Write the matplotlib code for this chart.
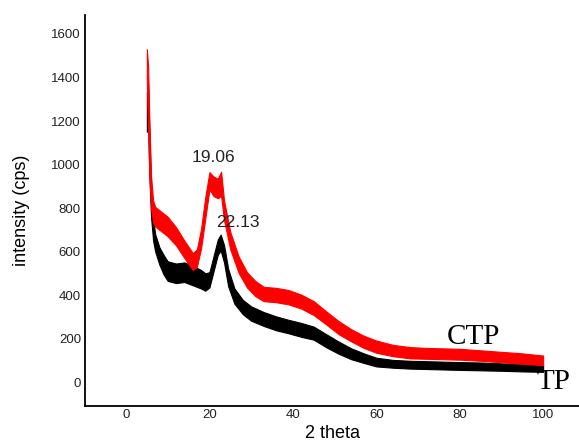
import matplotlib
matplotlib.use("Agg")
import matplotlib.pyplot as plt

# 2 theta positions and noise envelope (lower / upper) of each pattern
ctp_x = [5.0, 5.3, 5.6, 6.0, 6.5, 7.0, 8.0, 10, 12, 14, 16, 17, 18, 19, 20, 21, 22, 22.8, 23.5, 25,
         27, 29, 31, 33, 36, 39, 42, 45, 48, 51, 54, 57, 60, 64, 68, 72, 76, 80, 85, 90, 95, 100]
ctp_lo = [1380, 1150, 950, 800, 735, 715, 700, 670, 628, 570, 515, 530, 615, 750, 885, 855, 845, 855, 745, 610,
          502, 435, 395, 372, 367, 357, 338, 308, 265, 220, 187, 157, 135, 119, 109, 107, 105, 103, 98, 91, 84, 78]
ctp_hi = [1530, 1450, 1200, 950, 835, 805, 790, 760, 712, 650, 593, 610, 705, 850, 965, 945, 935, 967, 835, 690,
          578, 505, 465, 438, 433, 423, 402, 372, 325, 280, 243, 213, 191, 171, 161, 157, 155, 153, 146, 139, 132, 122]

tp_x = [5.0, 5.3, 5.6, 6.0, 6.5, 7.0, 8.0, 9.0, 10, 12, 14, 16, 18, 19, 20, 21, 22, 22.7, 23.5, 24.5,
        26, 28, 30, 33, 36, 39, 42, 45, 48, 51, 54, 57, 60, 64, 68, 72, 76, 80, 85, 90, 95, 100]
tp_lo = [1150, 1200, 950, 760, 650, 600, 540, 495, 465, 455, 460, 445, 430, 420, 435, 510, 585, 605, 550, 440,
         360, 312, 282, 258, 238, 224, 208, 195, 160, 130, 105, 88, 72, 66, 62, 60, 58, 56, 54, 52, 49, 47]
tp_hi = [1330, 1370, 1150, 900, 750, 680, 620, 585, 555, 545, 550, 535, 515, 500, 505, 580, 655, 678, 630, 520,
         430, 378, 348, 322, 302, 286, 272, 255, 220, 186, 155, 132, 112, 102, 98, 96, 94, 92, 90, 86, 83, 80]

peak_labels = ["19.06", "22.13"]
peak_pos = [(20.9, 1034), (26.9, 732)]

x_ticks = [0, 20, 40, 60, 80, 100]
y_ticks = [0, 200, 400, 600, 800, 1000, 1200, 1400, 1600]

plt.rcParams['font.family'] = ['Liberation Sans', 'DejaVu Sans']

fig = plt.figure(figsize=(5.79, 4.43), dpi=100)
ax = fig.add_axes([0.147, 0.0835, 0.853, 0.8825])

ax.fill_between(tp_x, tp_lo, tp_hi, color="black", lw=0.8)
ax.fill_between(ctp_x, ctp_lo, ctp_hi, color="#ff0000", lw=0.8)

for lab, (px, py) in zip(peak_labels, peak_pos):
    ax.text(px, py, lab, ha="center", va="center", fontsize=12.5, color="#222222")

ax.text(83.3, 207, "CTP", ha="center", va="center", fontsize=21, family="Liberation Serif")
ax.text(102.4, 0, "TP", ha="center", va="center", fontsize=21, family="Liberation Serif")

ax.set_xlim(-9.8, 108.6)
ax.set_ylim(-110, 1687)
ax.set_xticks(x_ticks)
ax.set_yticks(y_ticks)
ax.tick_params(length=0, labelsize=9.5, labelcolor="#222222")
ax.tick_params(axis="y", pad=3)
ax.tick_params(axis="x", pad=2)

ax.spines["top"].set_visible(False)
ax.spines["right"].set_visible(False)
ax.spines["left"].set_linewidth(1.3)
ax.spines["bottom"].set_linewidth(1.3)

ax.set_ylabel("intensity (cps)", fontsize=13, labelpad=15.5)
ax.set_xlabel("2 theta", fontsize=13, labelpad=3)

plt.savefig("out.png", dpi=100)
